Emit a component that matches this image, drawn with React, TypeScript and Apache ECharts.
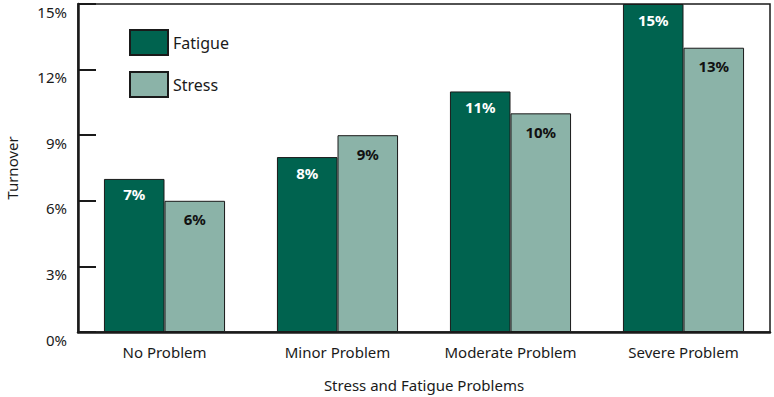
import React, { useEffect, useRef } from "react";
import * as echarts from "echarts";

const categories = ["No Problem", "Minor Problem", "Moderate Problem", "Severe Problem"];
const fatigue = [7, 8, 11, 15];
const stress = [6, 9, 10, 13];
const seriesNames = ["Fatigue", "Stress"];
const yTicks = [0, 3, 6, 9, 12, 15];
const xAxisTitle = "Stress and Fatigue Problems";
const yAxisTitle = "Turnover";

const FONT = "'Noto Sans', sans-serif";
const INK = "#1a1a1a";

export default function App() {
  const ref = useRef<HTMLDivElement>(null);
  useEffect(() => {
    if (!ref.current) return;
    const chart = echarts.init(ref.current, undefined, { renderer: "svg" });
    chart.setOption({
      animation: false,
      textStyle: { fontFamily: FONT, color: INK },
      grid: {
        left: 78,
        right: 4,
        top: 4,
        bottom: 65,
        containLabel: false,
        outerBoundsMode: "none",
        show: true,
        borderColor: INK,
        borderWidth: 1.5,
      },
      legend: {
        orient: "vertical",
        left: 124,
        top: 24,
        itemWidth: 38,
        itemHeight: 25,
        itemGap: 15,
        icon: "rect",
        textStyle: { fontFamily: FONT, fontSize: 16, color: INK },
        data: seriesNames,
      },
      xAxis: {
        type: "category",
        data: categories,
        name: xAxisTitle,
        nameLocation: "middle",
        nameGap: 45,
        nameTextStyle: { fontFamily: FONT, fontSize: 15, color: INK },
        axisLine: { lineStyle: { color: INK, width: 2.5 } },
        axisTick: { inside: true, length: 9, lineStyle: { color: INK, width: 2 } },
        axisLabel: { fontFamily: FONT, fontSize: 15, color: INK, margin: 12 },
      },
      yAxis: {
        type: "value",
        min: 0,
        max: 15,
        interval: 3,
        name: yAxisTitle,
        nameLocation: "middle",
        nameGap: 59,
        nameTextStyle: { fontFamily: FONT, fontSize: 15, color: INK },
        splitLine: { show: false },
        axisLine: { show: true, lineStyle: { color: INK, width: 2.5 } },
        axisTick: { show: true, inside: true, length: 18, lineStyle: { color: INK, width: 2 } },
        axisLabel: {
          fontFamily: FONT,
          fontSize: 15,
          color: INK,
          margin: 11,
          verticalAlign: "top",
          formatter: (v: number) => (yTicks.includes(v) ? `${v}%` : ""),
        },
      },
      series: [
        {
          name: seriesNames[0],
          type: "bar",
          data: fatigue,
          barWidth: "35%",
          barGap: "0%",
          itemStyle: { color: "#00634f", borderColor: "#1a1a1a", borderWidth: 1 },
          label: {
            show: true,
            position: "insideTop",
            distance: 8,
            fontFamily: FONT,
            fontSize: 15,
            fontWeight: "bold",
            color: "#ffffff",
            formatter: "{c}%",
          },
        },
        {
          name: seriesNames[1],
          type: "bar",
          data: stress,
          barWidth: "35%",
          itemStyle: { color: "#8bb3a8", borderColor: "#1a1a1a", borderWidth: 1 },
          label: {
            show: true,
            position: "insideTop",
            distance: 11,
            fontFamily: FONT,
            fontSize: 15,
            fontWeight: "bold",
            color: "#111111",
            formatter: "{c}%",
          },
        },
      ],
    });
    return () => chart.dispose();
  }, []);
  return (
    <div
      ref={ref}
      style={{ position: "absolute", left: 0, top: 0, width: 774, height: 397 }}
    />
  );
}
